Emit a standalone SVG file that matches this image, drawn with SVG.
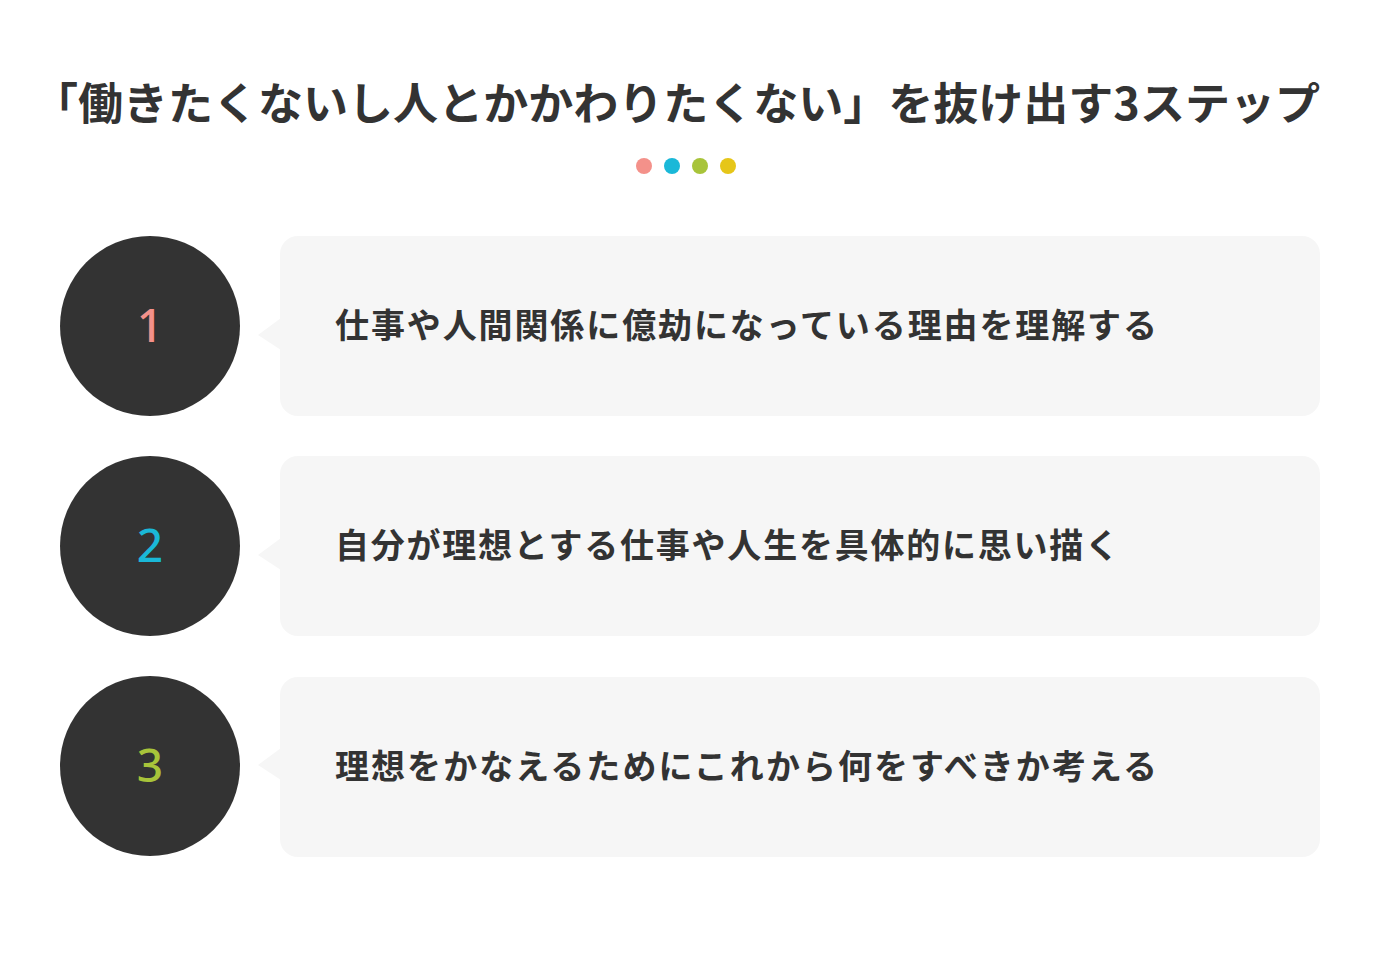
<svg xmlns="http://www.w3.org/2000/svg" width="1380" height="958" viewBox="0 0 1380 958">
<style>
.title{font-family:"Noto Sans CJK JP","Noto Sans",sans-serif;font-size:44px;font-weight:700;fill:#333;}
.num{font-family:"Noto Sans","Noto Sans CJK JP",sans-serif;font-size:46px;font-weight:500;text-anchor:middle;}
.step{font-family:"Noto Sans CJK JP","Noto Sans",sans-serif;font-size:34px;font-weight:700;fill:#333;}
.circ{fill:#333;}
.box{fill:#f6f6f6;}
</style>
<rect width="1380" height="958" fill="#fff"/>
<text class="title" x="33" y="120" textLength="1287" lengthAdjust="spacingAndGlyphs">「働きたくないし人とかかわりたくない」を抜け出す3ステップ</text>
<g id="dots">
<circle cx="644" cy="166" r="8" fill="#f4918a"/>
<circle cx="672" cy="166" r="8" fill="#1ab8d8"/>
<circle cx="700" cy="166" r="8" fill="#a8c43a"/>
<circle cx="728" cy="166" r="8" fill="#e6c619"/>
</g>
<g id="connectors"></g>
<g id="step1">
<circle class="circ" cx="150" cy="326" r="90"/>
<text class="num" x="150" y="342" fill="#f4918a">1</text>
<rect class="box" x="280" y="236" width="1040" height="180" rx="18"/>
<polygon class="box" points="258,335 281,318 281,350"/>
<text class="step" x="335" y="338" textLength="822" lengthAdjust="spacing">仕事や人間関係に億劫になっている理由を理解する</text>
</g>
<g id="step2">
<circle class="circ" cx="150" cy="546" r="90"/>
<text class="num" x="150" y="562" fill="#1ab8d8">2</text>
<rect class="box" x="280" y="456" width="1040" height="180" rx="18"/>
<polygon class="box" points="258,555 281,538 281,570"/>
<text class="step" x="335" y="558" textLength="784" lengthAdjust="spacing">自分が理想とする仕事や人生を具体的に思い描く</text>
</g>
<g id="step3">
<circle class="circ" cx="150" cy="766" r="90"/>
<text class="num" x="150" y="782" fill="#a8c43a">3</text>
<rect class="box" x="280" y="677" width="1040" height="180" rx="18"/>
<polygon class="box" points="258,765 281,748 281,780"/>
<text class="step" x="335" y="779" textLength="822" lengthAdjust="spacing">理想をかなえるためにこれから何をすべきか考える</text>
</g>
</svg>
